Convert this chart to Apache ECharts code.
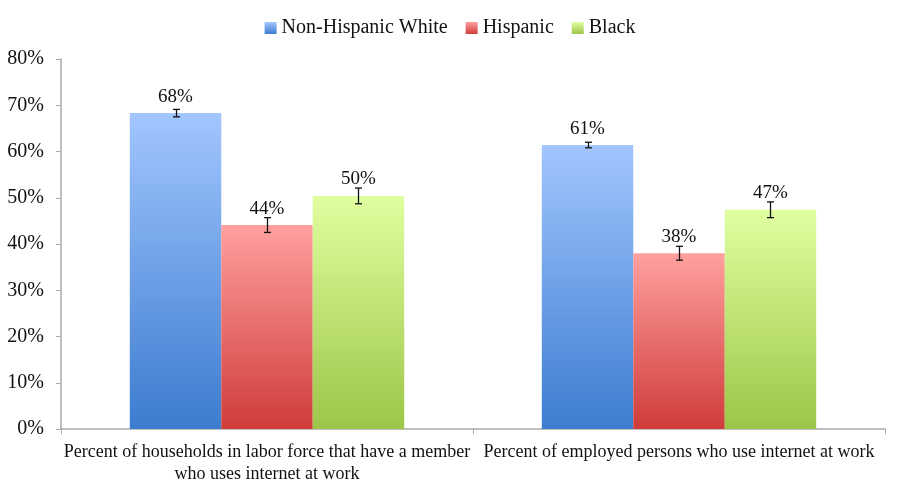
<!DOCTYPE html>
<html>
<head>
<meta charset="utf-8">
<script src="https://cdn.jsdelivr.net/npm/echarts@6/dist/echarts.min.js"></script>
<style>html,body{margin:0;padding:0;background:#fff}#c{width:900px;height:491px}</style>
</head>
<body>
<div id="c"></div>
<script>
const categories = [
  "Percent of households in labor force that have a member\nwho uses internet at work",
  "Percent of employed persons who use internet at work"
];
const seriesNames = ["Non-Hispanic White", "Hispanic", "Black"];
const whiteValues = [68.3, 61.4];
const hispanicValues = [44.1, 38.0];
const blackValues = [50.4, 47.4];
const whiteErr = [0.8, 0.6];
const hispanicErr = [1.6, 1.5];
const blackErr = [1.7, 1.7];
const yTicks = [0, 10, 20, 30, 40, 50, 60, 70, 80];

const FONT = "Liberation Serif";
const gradients = [
  ["#a2c6ff", "#3c7ccf"],
  ["#ffa09e", "#cf3c3a"],
  ["#e0ffa0", "#9cc648"]
];
function grad(c) {
  return new echarts.graphic.LinearGradient(0, 0, 0, 1, [
    {offset: 0, color: c[0]}, {offset: 1, color: c[1]}
  ]);
}
const values = [whiteValues, hispanicValues, blackValues];
const errs = [whiteErr, hispanicErr, blackErr];
const GAP = 0.334;

const series = [];
seriesNames.forEach((name, i) => {
  series.push({
    name: name,
    type: 'bar',
    data: values[i],
    barGap: '0%',
    barCategoryGap: (GAP * 100) + '%',
    itemStyle: {color: grad(gradients[i])},
    label: {
      show: true, position: 'top', distance: 7,
      fontFamily: FONT, fontSize: 19, color: '#111',
      formatter: p => Math.round(p.value) + '%'
    },
    z: 2
  });
});
seriesNames.forEach((name, i) => {
  series.push({
    type: 'custom',
    name: name + ' error',
    z: 5,
    data: values[i].map((v, k) => [k, v - errs[i][k], v + errs[i][k]]),
    renderItem: function (params, api) {
      const catW = api.size([1, 0])[0];
      const bw = catW * (1 - GAP) / 3;
      const lo = api.coord([api.value(0), api.value(1)]);
      const hi = api.coord([api.value(0), api.value(2)]);
      const x = Math.round(lo[0] + (i - 1) * bw) + 0.5;
      const cap = 3.5;
      const st = {stroke: '#111', lineWidth: 1.3};
      return {
        type: 'group',
        children: [
          {type: 'line', shape: {x1: x, y1: lo[1], x2: x, y2: hi[1]}, style: st},
          {type: 'line', shape: {x1: x - cap, y1: lo[1], x2: x + cap, y2: lo[1]}, style: st},
          {type: 'line', shape: {x1: x - cap, y1: hi[1], x2: x + cap, y2: hi[1]}, style: st}
        ]
      };
    },
    encode: {x: 0, y: [1, 2]},
    silent: true
  });
});

const chart = echarts.init(document.getElementById('c'));
chart.setOption({
  animation: false,
  backgroundColor: '#fff',
  textStyle: {fontFamily: FONT},
  legend: {
    data: seriesNames,
    top: 13, left: 'center',
    itemWidth: 12, itemHeight: 12, itemGap: 18,
    icon: 'rect',
    textStyle: {fontFamily: FONT, fontSize: 20, color: '#111'}
  },
  grid: {left: 61, right: 15, top: 59, bottom: 62, containLabel: false},
  xAxis: {
    type: 'category',
    data: categories,
    axisLine: {lineStyle: {color: '#aaa', width: 1.5}},
    axisTick: {show: true, length: 5, lineStyle: {color: '#aaa'}},
    axisLabel: {
      interval: 0, fontFamily: FONT, fontSize: 18, color: '#111',
      margin: 12, lineHeight: 22, align: 'center'
    }
  },
  yAxis: {
    type: 'value',
    min: yTicks[0], max: yTicks[yTicks.length - 1], interval: 10,
    axisLine: {show: true, lineStyle: {color: '#aaa', width: 1.5}},
    axisTick: {show: true, length: 5, lineStyle: {color: '#aaa'}},
    splitLine: {show: false},
    axisLabel: {fontFamily: FONT, fontSize: 20, color: '#111', margin: 17, formatter: v => v + '%'}
  },
  series: series
});
</script>
</body>
</html>
